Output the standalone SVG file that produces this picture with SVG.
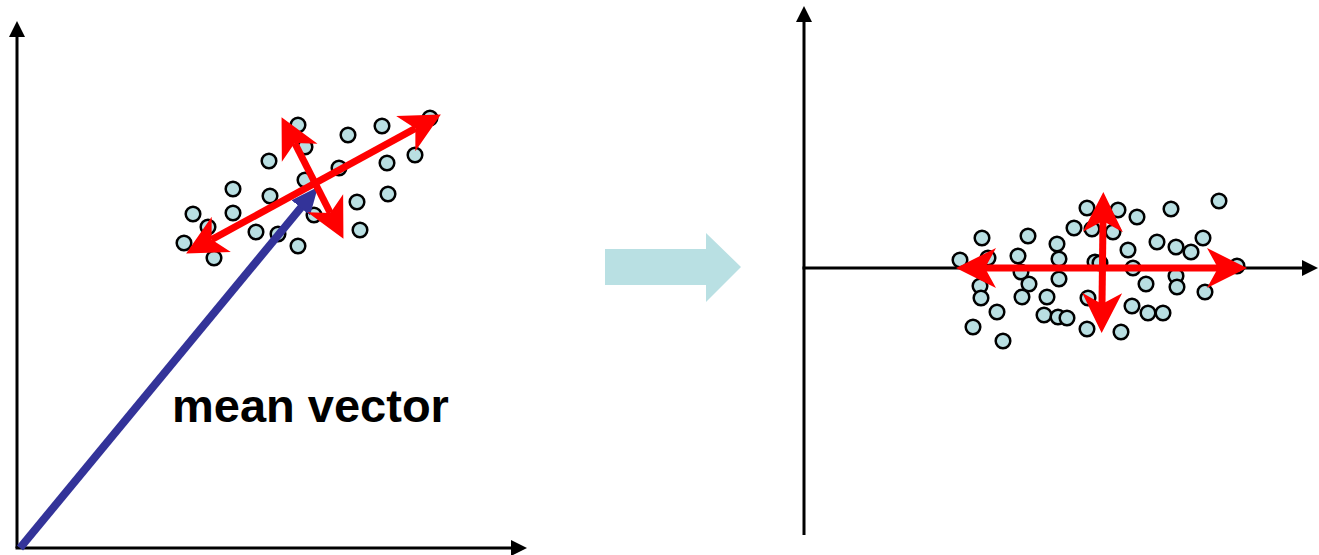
<svg xmlns="http://www.w3.org/2000/svg" width="1319" height="555" viewBox="0 0 1319 555">
  <defs>
    <style>
      .axis { stroke: #000; stroke-width: 3; fill: none; marker-end: url(#axisHead); }
      .dot { fill: #b9dfe2; stroke: #000; stroke-width: 2.5; }
      .pc { stroke: #ff0000; stroke-width: 7; fill: none; marker-start: url(#redHead); marker-end: url(#redHead); }
      .label { font-family: "Liberation Sans", Arial, sans-serif; font-weight: bold; font-size: 47px; fill: #000; }
    </style>
    <marker id="axisHead" markerUnits="userSpaceOnUse" viewBox="0 -8 16 16" refX="1" refY="0" markerWidth="16" markerHeight="16" orient="auto">
      <path d="M0,-8 L16,0 L0,8 Z" fill="#000"/>
    </marker>
    <!-- notched head; refX sits at the notch so the shaft ends inside it -->
    <marker id="redHead" markerUnits="userSpaceOnUse" viewBox="0 -21 41 42" refX="11" refY="0" markerWidth="41" markerHeight="42" orient="auto-start-reverse">
      <path d="M0,-20 L40,0 L0,20 L11,0 Z" fill="#ff0000"/>
    </marker>
    <marker id="blueHead" markerUnits="userSpaceOnUse" viewBox="0 -13 28 26" refX="4" refY="0" markerWidth="28" markerHeight="26" orient="auto">
      <path d="M0,-12 L27,0 L0,12 Z" fill="#333399"/>
    </marker>
  </defs>

  <!-- original coordinate frame -->
  <g id="left-axes">
    <line class="axis" x1="17" y1="548" x2="17" y2="36"/>
    <line class="axis" x1="15.5" y1="548" x2="512" y2="548"/>
  </g>

  <!-- transformed coordinate frame -->
  <g id="right-axes">
    <line class="axis" x1="804" y1="535" x2="804" y2="21"/>
    <line class="axis" x1="802.5" y1="268" x2="1303" y2="268"/>
  </g>

  <!-- data points in the original frame -->
  <g id="left-points">
    <circle class="dot" cx="298" cy="125" r="7.3"/>
    <circle class="dot" cx="305" cy="147" r="7.3"/>
    <circle class="dot" cx="348" cy="135" r="7.3"/>
    <circle class="dot" cx="382" cy="126" r="7.3"/>
    <circle class="dot" cx="430" cy="118" r="7.3"/>
    <circle class="dot" cx="269" cy="161" r="7.3"/>
    <circle class="dot" cx="339" cy="168" r="7.3"/>
    <circle class="dot" cx="387" cy="163" r="7.3"/>
    <circle class="dot" cx="415" cy="155" r="7.3"/>
    <circle class="dot" cx="233" cy="189" r="7.3"/>
    <circle class="dot" cx="305" cy="180" r="7.3"/>
    <circle class="dot" cx="270" cy="196" r="7.3"/>
    <circle class="dot" cx="357" cy="202" r="7.3"/>
    <circle class="dot" cx="388" cy="194" r="7.3"/>
    <circle class="dot" cx="193" cy="214" r="7.3"/>
    <circle class="dot" cx="233" cy="213" r="7.3"/>
    <circle class="dot" cx="208" cy="227" r="7.3"/>
    <circle class="dot" cx="314" cy="215" r="7.3"/>
    <circle class="dot" cx="256" cy="232" r="7.3"/>
    <circle class="dot" cx="278" cy="234" r="7.3"/>
    <circle class="dot" cx="360" cy="230" r="7.3"/>
    <circle class="dot" cx="184" cy="243" r="7.3"/>
    <circle class="dot" cx="298" cy="246" r="7.3"/>
    <circle class="dot" cx="214" cy="258" r="7.3"/>
  </g>

  <!-- data points in the transformed frame -->
  <g id="right-points">
    <circle class="dot" cx="1219" cy="201" r="7.3"/>
    <circle class="dot" cx="1087" cy="208" r="7.3"/>
    <circle class="dot" cx="1118" cy="210" r="7.3"/>
    <circle class="dot" cx="1137" cy="217" r="7.3"/>
    <circle class="dot" cx="1171" cy="209" r="7.3"/>
    <circle class="dot" cx="1074" cy="228" r="7.3"/>
    <circle class="dot" cx="1092" cy="229" r="7.3"/>
    <circle class="dot" cx="1113" cy="232" r="7.3"/>
    <circle class="dot" cx="982" cy="238" r="7.3"/>
    <circle class="dot" cx="1028" cy="236" r="7.3"/>
    <circle class="dot" cx="1057" cy="244" r="7.3"/>
    <circle class="dot" cx="1128" cy="250" r="7.3"/>
    <circle class="dot" cx="1157" cy="242" r="7.3"/>
    <circle class="dot" cx="1176" cy="247" r="7.3"/>
    <circle class="dot" cx="1191" cy="252" r="7.3"/>
    <circle class="dot" cx="1203" cy="238" r="7.3"/>
    <circle class="dot" cx="960" cy="260" r="7.3"/>
    <circle class="dot" cx="988" cy="258" r="7.3"/>
    <circle class="dot" cx="1018" cy="256" r="7.3"/>
    <circle class="dot" cx="1059" cy="259" r="7.3"/>
    <circle class="dot" cx="1095" cy="262" r="7.3"/>
    <circle class="dot" cx="1100" cy="263" r="7.3"/>
    <circle class="dot" cx="1133" cy="268" r="7.3"/>
    <circle class="dot" cx="1237" cy="266" r="7.3"/>
    <circle class="dot" cx="1021" cy="272" r="7.3"/>
    <circle class="dot" cx="1059" cy="279" r="7.3"/>
    <circle class="dot" cx="1176" cy="276" r="7.3"/>
    <circle class="dot" cx="980" cy="286" r="7.3"/>
    <circle class="dot" cx="1029" cy="284" r="7.3"/>
    <circle class="dot" cx="1146" cy="284" r="7.3"/>
    <circle class="dot" cx="1177" cy="287" r="7.3"/>
    <circle class="dot" cx="1205" cy="292" r="7.3"/>
    <circle class="dot" cx="981" cy="298" r="7.3"/>
    <circle class="dot" cx="1022" cy="297" r="7.3"/>
    <circle class="dot" cx="1047" cy="297" r="7.3"/>
    <circle class="dot" cx="1088" cy="298" r="7.3"/>
    <circle class="dot" cx="1132" cy="306" r="7.3"/>
    <circle class="dot" cx="997" cy="312" r="7.3"/>
    <circle class="dot" cx="1044" cy="315" r="7.3"/>
    <circle class="dot" cx="1058" cy="317" r="7.3"/>
    <circle class="dot" cx="1067" cy="318" r="7.3"/>
    <circle class="dot" cx="1148" cy="313" r="7.3"/>
    <circle class="dot" cx="1163" cy="313" r="7.3"/>
    <circle class="dot" cx="973" cy="327" r="7.3"/>
    <circle class="dot" cx="1087" cy="329" r="7.3"/>
    <circle class="dot" cx="1121" cy="332" r="7.3"/>
    <circle class="dot" cx="1003" cy="341" r="7.3"/>
  </g>

  <g id="connectors">
    <!-- mean vector from the origin to the cluster centre -->
    <line id="mean-vector" x1="20" y1="548" x2="303.3" y2="204.7" stroke="#333399" stroke-width="8" marker-end="url(#blueHead)"/>
    <!-- principal directions, original frame -->
    <line class="pc" x1="211.6" y1="239.6" x2="415.4" y2="128.4"/>
    <line class="pc" x1="294.7" y1="143" x2="330.3" y2="213"/>
    <!-- principal directions, transformed frame -->
    <line class="pc" x1="985" y1="268" x2="1218" y2="268"/>
    <line class="pc" x1="1103" y1="221" x2="1102" y2="304"/>
  </g>

  <g id="mean-vector-label">
    <text class="label" x="172" y="422">mean vector</text>
  </g>

  <!-- transformation arrow between the two frames -->
  <g id="transform-arrow">
    <path d="M605,249 L706,249 L706,233 L741,267 L706,302 L706,285 L605,285 Z" fill="#b9e0e3"/>
  </g>
</svg>
